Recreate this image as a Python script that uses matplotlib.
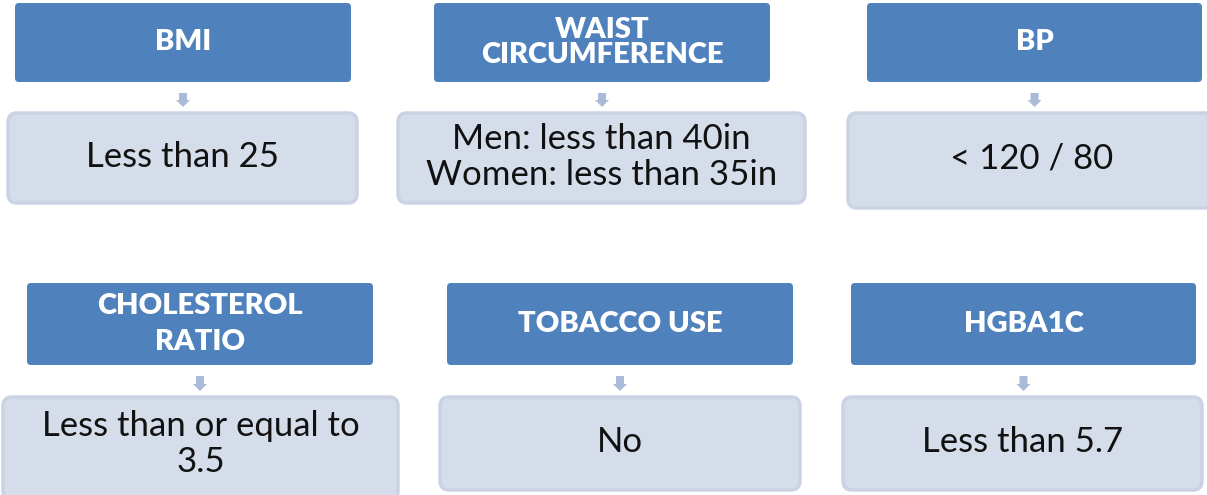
import matplotlib
matplotlib.use("Agg")
import matplotlib.pyplot as plt
from matplotlib.patches import FancyBboxPatch, FancyArrow

# text content of the six measure cards
headers = ["BMI", "WAIST\nCIRCUMFERENCE", "BP",
           "CHOLESTEROL\nRATIO", "TOBACCO USE", "HGBA1C"]
targets = ["Less than 25", "Men: less than 40in\nWomen: less than 35in",
           "< 120 / 80", "Less than or equal to\n3.5", "No", "Less than 5.7"]

# layout in pixels (x0, x1, y0, y1), y measured from the top
header_boxes = [(15, 351, 3, 82), (434, 770, 3, 82), (867, 1202, 3, 82),
                (27, 373, 283, 365), (447, 793, 283, 365), (851, 1196, 283, 365)]
target_boxes = [(8, 357, 113, 203), (398, 805, 113, 203), (848, 1215, 113, 208),
                (3, 398, 397, 500), (440, 800, 397, 490), (843, 1202, 397, 490)]
header_spacing = [1.0, 0.95, 1.0, 1.45, 1.0, 1.0]
target_center = [157, 157, 158, 444, 442, 442]

HEAD_COLOR = "#4F81BD"
BOX_FILL = "#D6DDEA"
BOX_EDGE = "#CAD3E3"
ARROW_COLOR = "#A9BBD9"

W, H = 1207, 495
fig = plt.figure(figsize=(W / 100, H / 100), dpi=100)
ax = fig.add_axes([0, 0, 1, 1])
ax.set_xlim(0, W)
ax.set_ylim(H, 0)
ax.axis("off")


def rounded(ax, box, r, **kw):
    x0, x1, y0, y1 = box
    p = FancyBboxPatch((x0 + r, y0 + r), x1 - x0 - 2 * r, y1 - y0 - 2 * r,
                       boxstyle="round,pad=%g" % r, **kw)
    ax.add_patch(p)


for i, (head, target) in enumerate(zip(headers, targets)):
    hb, tb = header_boxes[i], target_boxes[i]
    # dark header card
    rounded(ax, hb, 4, facecolor=HEAD_COLOR, edgecolor="none")
    cx = (hb[0] + hb[1]) / 2
    cy = (hb[2] + hb[3]) / 2
    ax.text(cx, cy, head, ha="center", va="center", color="white",
            fontsize=21, fontweight="heavy", family=["Lato", "DejaVu Sans"],
            linespacing=header_spacing[i])

    # small arrow between the cards
    ay0 = hb[3] + 11
    ay1 = tb[2] - 6
    ax.add_patch(FancyArrow(cx, ay0, 0, ay1 - ay0, width=8, head_width=14,
                            head_length=7, length_includes_head=True,
                            color=ARROW_COLOR, linewidth=0))

    # light value card
    rounded(ax, tb, 9, facecolor=BOX_FILL, edgecolor=BOX_EDGE, linewidth=2.5)
    tx = (tb[0] + tb[1]) / 2
    ax.text(tx, target_center[i], target, ha="center", va="center",
            color="#111111", fontsize=25, family=["Lato", "DejaVu Sans"],
            linespacing=1.15)

fig.savefig("out.png", dpi=100)
